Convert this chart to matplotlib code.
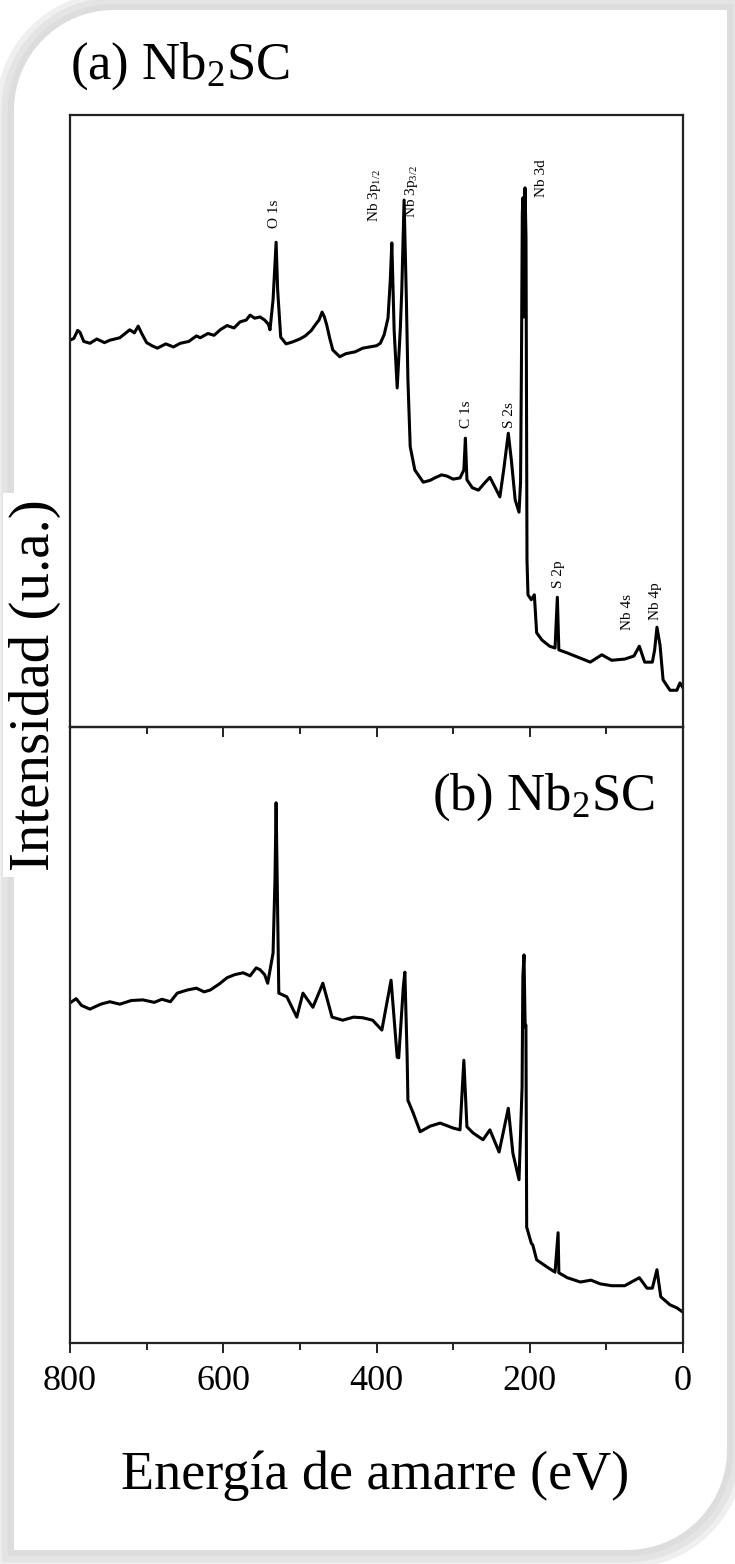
import numpy as np
import matplotlib as mpl
mpl.use('Agg')
mpl.rc('font', family='Liberation Serif')
mpl.rc('mathtext', fontset='custom', rm='Liberation Serif',
       it='Liberation Serif:italic', bf='Liberation Serif:bold')
import matplotlib.pyplot as plt
from matplotlib.path import Path
from matplotlib.patches import PathPatch
from matplotlib.ticker import MultipleLocator

# XPS survey spectra of Nb2SC, binding energy in eV, intensity in a.u.
energy_a = [800, 795, 790, 787, 782, 774, 765, 755, 748, 735,
            722, 716, 711, 706, 700, 693, 686, 675, 665, 656,
            645, 635, 630, 620, 612, 604, 595, 586, 578, 570,
            565, 559, 552, 546, 541, 539, 535, 531, 529, 525,
            518, 510, 500, 493, 485, 480, 475, 471, 468, 465,
            461, 457, 448, 440, 428, 418, 409, 400, 395, 390,
            385, 382, 380, 377, 373, 369, 367, 364, 361, 359,
            356, 350, 339, 330, 324, 315, 308, 300, 291, 286,
            284, 282, 275, 267, 258, 252, 245, 239, 234, 228,
            224, 219, 214, 212, 210.8, 209.7, 208.8, 207.5, 206.6, 206.2,
            204.9, 203.6, 202.3, 198, 194, 191, 184, 174, 167, 164,
            162, 151, 137, 121, 106, 93, 76, 64, 57, 50,
            40, 37, 34, 30, 26, 17, 8, 4, 0]
intensity_a = [63.2, 63.5, 64.8, 64.5, 63.0, 62.7, 63.4, 62.8, 63.2, 63.6,
               64.9, 64.4, 65.5, 64.2, 62.8, 62.3, 61.9, 62.6, 62.1, 62.7,
               63.0, 63.9, 63.6, 64.3, 64.0, 64.9, 65.6, 65.2, 66.2, 66.5,
               67.3, 66.8, 67.0, 66.5, 65.8, 64.9, 69.8, 79.2, 71.4, 63.7,
               62.6, 62.9, 63.4, 63.9, 64.8, 65.7, 66.5, 67.8, 67.0, 65.7,
               63.5, 61.6, 60.5, 61.0, 61.3, 61.9, 62.1, 62.3, 62.7, 64.1,
               66.8, 73.0, 79.1, 64.9, 55.4, 64.9, 71.4, 86.1, 69.8, 56.7,
               45.8, 42.0, 40.0, 40.3, 40.7, 41.2, 41.0, 40.5, 40.7, 42.0,
               47.2, 40.4, 39.1, 38.7, 40.0, 40.8, 39.1, 37.6, 42.0, 48.0,
               43.6, 37.1, 35.1, 40.0, 60.0, 84.0, 86.5, 67.0, 85.0, 88.1,
               80.0, 27.3, 21.6, 20.8, 21.6, 15.4, 14.2, 13.2, 12.9, 21.2,
               12.6, 12.1, 11.4, 10.6, 11.8, 10.9, 11.1, 11.6, 13.2, 10.6,
               10.6, 12.6, 16.3, 13.4, 7.7, 6.0, 6.0, 7.2, 6.4]

energy_b = [800, 792, 785, 774, 760, 748, 735, 720, 705, 690,
            680, 669, 660, 647, 635, 625, 617, 605, 595, 585,
            574, 565, 557, 552, 546, 542, 535, 532.5, 531, 529,
            527.5, 517, 504, 496, 483, 470, 458, 444, 430, 418,
            405, 393, 381, 373, 371, 365, 363, 360, 359, 352,
            343, 330, 317, 300, 291, 286, 282, 274, 261, 252,
            240, 228, 222, 214, 210, 209, 207.5, 206, 205, 204,
            198, 196, 191, 177, 167, 163, 162, 151, 134, 120,
            108, 93, 76, 57, 47, 40, 34, 29, 17, 8,
            0]
intensity_b = [55.2, 55.9, 54.8, 54.2, 55.0, 55.4, 55.0, 55.6, 55.7, 55.3,
               55.8, 55.4, 56.8, 57.3, 57.6, 57.0, 57.3, 58.3, 59.3, 59.8,
               60.1, 59.6, 60.9, 60.6, 59.8, 58.4, 63.3, 75.2, 87.7, 69.8,
               56.8, 56.2, 52.9, 56.8, 54.5, 58.4, 52.9, 52.4, 52.9, 52.8,
               52.4, 50.8, 58.9, 46.4, 46.3, 57.8, 60.2, 46.4, 39.4, 37.3,
               34.3, 35.2, 35.7, 34.9, 34.6, 45.9, 35.1, 34.1, 33.0, 34.6,
               31.0, 38.1, 30.8, 26.5, 41.6, 59.4, 63.0, 51.3, 51.6, 18.8,
               16.2, 15.9, 13.5, 12.3, 11.5, 17.9, 11.4, 10.6, 9.9, 10.2,
               9.6, 9.3, 9.3, 10.6, 8.9, 8.9, 11.9, 7.5, 6.2, 5.7,
               5.0]

# peak assignments for spectrum (a)
peak_names = ['O 1s', r'Nb 3p$_{1/2}$', r'Nb 3p$_{3/2}$', 'Nb 3d',
              'C 1s', 'S 2s', 'S 2p', 'Nb 4s', 'Nb 4p']
peak_label_energy = [532.5, 402, 354, 185, 282, 227, 163, 72, 36.5]
peak_label_height = [81.5, 82.5, 83.2, 86.6, 48.9, 48.9, 22.7, 15.8, 17.5]

W, H = 735, 1564
fig = plt.figure(figsize=(W / 100, H / 100), dpi=100)
fig.patch.set_facecolor('white')

# rounded card behind the plots, with a soft grey shadow
L, R, T, B, r = 14, 727, H - 10, 14, 100
tl = np.linspace(np.pi / 2, np.pi, 20)
br = np.linspace(0, -np.pi / 2, 20)
verts = [(L + r, T), (R, T), (R, B + r)]
verts += list(zip(R - r + r * np.cos(br), B + r + r * np.sin(br)))
verts += [(L, B), (L, T - r)]
verts += list(zip(L + r + r * np.cos(tl[::-1]), T - r + r * np.sin(tl[::-1])))
verts = np.array(verts) / 100.0
card = Path(np.vstack([verts, verts[:1]]), closed=True)
for lw, alpha in [(26, 0.3), (18, 0.3), (9, 0.25)]:
    fig.add_artist(PathPatch(card, transform=fig.dpi_scale_trans,
                             facecolor='none', edgecolor='#cccccc',
                             lw=lw, alpha=alpha, zorder=-3))
fig.add_artist(PathPatch(card, transform=fig.dpi_scale_trans,
                         facecolor='white', edgecolor='none', zorder=-2))

left, width = 70 / W, 613 / W
ax_a = fig.add_axes([left, 1 - 727 / H, width, 612 / H])
ax_b = fig.add_axes([left, 1 - 1343 / H, width, 616 / H])

for ax in (ax_a, ax_b):
    ax.set_facecolor('none')
    ax.set_xlim(800, 0)
    ax.set_ylim(0, 100)
    ax.xaxis.set_major_locator(MultipleLocator(200))
    ax.xaxis.set_minor_locator(MultipleLocator(100))
    ax.set_yticks([])
    ax.tick_params(axis='x', which='major', direction='out', length=7,
                   width=1.4, color='#222222', labelsize=26, pad=9)
    ax.tick_params(axis='x', which='minor', direction='out', length=5,
                   width=1.4, color='#222222')
    for sp in ax.spines.values():
        sp.set_linewidth(1.6)
        sp.set_color('#222222')

ax_a.tick_params(axis='x', which='both', labelbottom=False)

ax_a.plot(energy_a, intensity_a, color='black', lw=2.2, solid_joinstyle='round')
ax_b.plot(energy_b, intensity_b, color='black', lw=2.2, solid_joinstyle='round')

for name, e, h in zip(peak_names, peak_label_energy, peak_label_height):
    ax_a.text(e, h, name, rotation=90, ha='center', va='bottom', fontsize=11)

ax_a.text(0.0, 1.06, r'(a) Nb$_2$SC', transform=ax_a.transAxes,
          ha='left', va='baseline', fontsize=38)
ax_b.text(0.954, 0.865, r'(b) Nb$_2$SC', transform=ax_b.transAxes,
          ha='right', va='baseline', fontsize=38)

fig.text(375 / W, 1 - 1476 / H, 'Energía de amarre (eV)',
         ha='center', va='center', fontsize=39)
fig.text(35 / W, 0.562, 'Intensidad (u.a.)', rotation=90,
         ha='center', va='center', fontsize=41,
         bbox=dict(facecolor='white', edgecolor='none', pad=4))

fig.savefig('out.png', dpi=100)
plt.close(fig)
